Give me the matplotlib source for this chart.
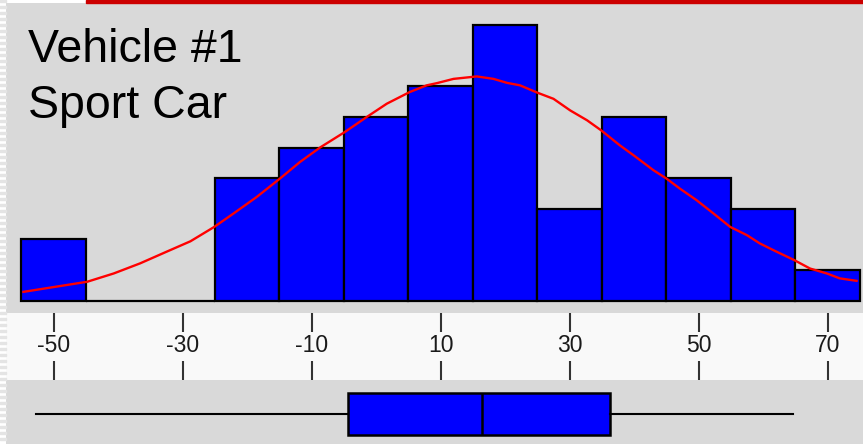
import matplotlib
matplotlib.use("Agg")
import matplotlib.pyplot as plt
from matplotlib.patches import Rectangle
import numpy as np

plt.rcParams['font.family'] = ['Liberation Sans', 'DejaVu Sans']

# histogram: bin edges and counts
bin_edges = [-55, -45, -35, -25, -15, -5, 5, 15, 25, 35, 45, 55, 65, 75]
counts = [2, 0, 0, 4, 5, 6, 7, 9, 3, 6, 4, 3, 1]

# fitted curve (x value, count scale)
curve_x = [-54.7, -44.8, -40.7, -36.6, -32.5, -28.8, -25.1, -22.1, -18.5, -14.9,
           -11.8, -8.7, -4.9, -1.5, 1.65, 5.2, 7.85, 9.4, 12.0, 15.6, 18.2, 20.3,
           22.3, 25.0, 27.5, 30.1, 32.7, 34.9, 37.8, 39.9, 43.0, 45.0, 47.1, 49.7,
           52.3, 54.9, 57.5, 59.5, 62.1, 64.8, 67.3, 69.9, 71.9, 74.5]
curve_y = [0.29, 0.62, 0.89, 1.22, 1.60, 1.94, 2.41, 2.85, 3.39, 3.99,
           4.53, 5.0, 5.5, 5.99, 6.43, 6.81, 7.03, 7.10, 7.24, 7.32, 7.24, 7.11,
           7.03, 6.79, 6.59, 6.21, 5.89, 5.56, 5.07, 4.75, 4.26, 3.99, 3.66, 3.28,
           2.85, 2.41, 2.14, 1.87, 1.60, 1.33, 1.05, 0.89, 0.73, 0.65]

# boxplot summary
box_stats = {'whislo': -52.8, 'q1': -4.3, 'med': 16.4, 'q3': 36.2, 'whishi': 64.6}

tick_values = [-50, -30, -10, 10, 30, 50, 70]
tick_labels = ['-50', '-30', '-10', '10', '30', '50', '70']

title_lines = ['Vehicle #1', 'Sport Car']

W, H = 863, 444
fig = plt.figure(figsize=(W / 100, H / 100), dpi=100)
fig.patch.set_facecolor('white')

def frac(x0, y0, x1, y1):
    # pixel box (top-left origin) -> figure fraction rect
    return [x0 / W, 1 - y1 / H, (x1 - x0) / W, (y1 - y0) / H]

xlim = (-57.4, 75.5)
gray = '#d9d9d9'

# striped left edge and red bar on top
for y in range(0, H, 6):
    fig.patches.append(Rectangle((0, 1 - (y + 2) / H), 6 / W, 2 / H,
                                 transform=fig.transFigure, color='#e4e4e4', zorder=0))
fig.patches.append(Rectangle((86 / W, 1 - 3.5 / H), 1 - 86 / W, 3.5 / H,
                             transform=fig.transFigure, color='#cc0000', zorder=0))

# histogram panel
ax = fig.add_axes(frac(6, 3.5, W, 313))
ax.set_facecolor(gray)
ax.bar(bin_edges[:-1], counts, width=np.diff(bin_edges), align='edge',
       color='#0000ff', edgecolor='black', linewidth=1.6)
ax.plot(curve_x, curve_y, color='#ff0000', linewidth=1.7, solid_joinstyle='round')
ax.set_xlim(xlim)
ax.set_ylim(-0.4, 9.7)
ax.set_xticks([])
ax.set_yticks([])
for s in ax.spines.values():
    s.set_visible(False)

# tick strip
axt = fig.add_axes(frac(6, 313, W, 380))
axt.set_facecolor('#f9f9f9')
axt.set_xlim(xlim)
axt.set_yticks([])
axt.set_xticks(tick_values)
axt.set_xticklabels(tick_labels, fontsize=16.5, color='#1a1a1a')
axt.tick_params(axis='x', which='both', direction='in', top=True, bottom=True,
                length=14, width=1.5, color='#333333', pad=-33)
for s in axt.spines.values():
    s.set_visible(False)

# box plot panel
axb = fig.add_axes(frac(6, 380, W, H))
axb.set_facecolor(gray)
box_stats['fliers'] = []
axb.bxp([box_stats], positions=[0], widths=[1], vert=False, showcaps=False,
        patch_artist=True, showfliers=False,
        boxprops=dict(facecolor='#0000ff', edgecolor='black', linewidth=1.8),
        medianprops=dict(color='black', linewidth=1.8),
        whiskerprops=dict(color='black', linewidth=1.5))
axb.set_xlim(xlim)
axb.set_ylim(-0.714, 0.81)
axb.set_xticks([])
axb.set_yticks([])
for s in axb.spines.values():
    s.set_visible(False)

# title text
fig.text(28 / W, 1 - 62 / H, title_lines[0], fontsize=33.5, va='baseline', ha='left')
fig.text(28 / W, 1 - 118 / H, title_lines[1], fontsize=33.5, va='baseline', ha='left')

fig.savefig('out.png', dpi=100, facecolor='white')
